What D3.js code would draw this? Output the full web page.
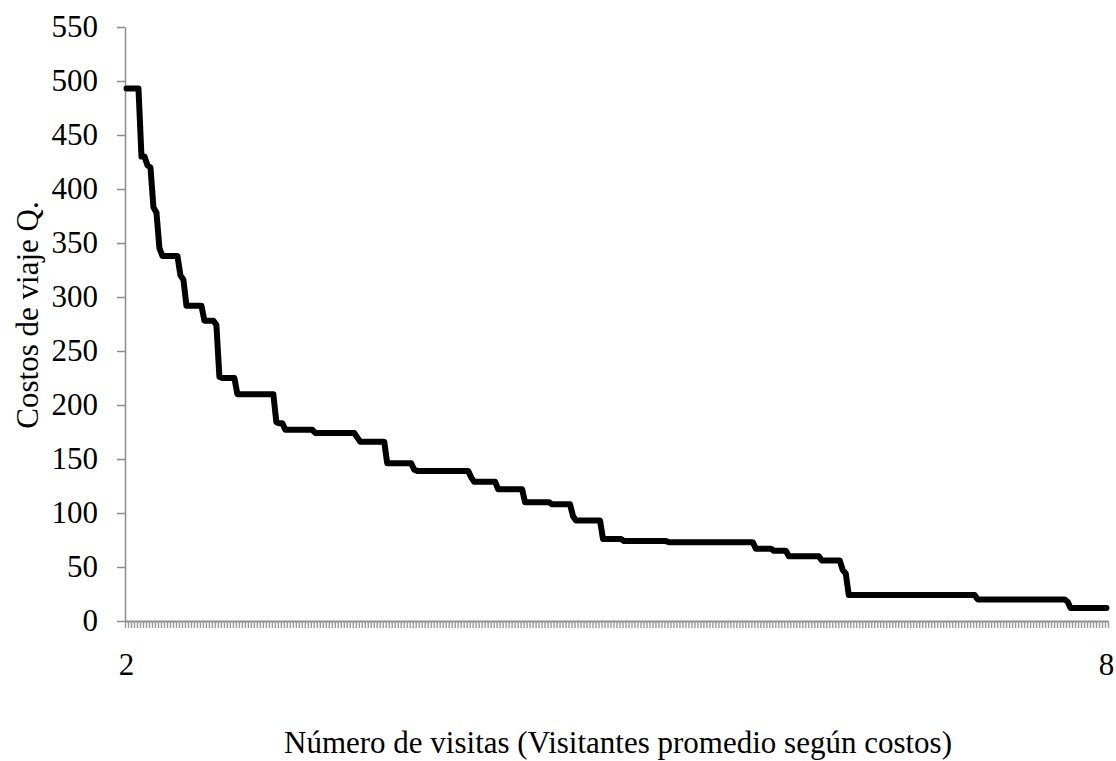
<!DOCTYPE html>
<html>
  <head>
    <meta charset="UTF-8">
    <title>Costos de viaje</title>
    <script src="https://d3js.org/d3.v7.min.js"></script>
    <style>
      body { margin: 0; background: #fff; }
      svg text { font-family: "Liberation Serif", "Times New Roman", Times, serif !important; fill: #000; }
    </style>
  </head>
  <body>
    <svg id="chart" width="1116" height="761"></svg>
    <script>
      // travel cost per visitor group (left to right)
      const costs = [
        493,493,493,493,493,
        430,430,422,420,383,378,345,
        338,338,338,338,338,338,
        320,316,
        292,292,292,292,292,292,
        278,278,278,278,274,
        226,225,225,225,225,225,
        210,210,210,210,210,210,210,210,210,210,210,210,210,
        184,183,183,
        177,177,177,177,177,177,177,177,177,177,
        174,174,174,174,174,174,174,174,174,174,174,174,174,174,
        170,
        166,166,166,166,166,166,166,166,166,
        146,146,146,146,146,146,146,146,146,
        140,
        139,139,139,139,139,139,139,139,139,139,139,139,139,139,139,139,139,139,
        133,
        129,129,129,129,129,129,129,129,
        122,122,122,122,122,122,122,122,122,
        110,110,110,110,110,110,110,110,110,
        108,108,108,108,108,108,108,
        97,
        93,93,93,93,93,93,93,93,93,
        76,76,76,76,76,76,76,
        74,74,74,74,74,74,74,74,74,74,74,74,74,74,74,
        73,73,73,73,73,73,73,73,73,73,
        73,73,73,73,73,73,73,73,73,73,
        73,73,73,73,73,73,73,73,73,
        67,67,67,67,67,67,
        65,65,65,65,65,
        60,60,60,60,60,60,60,60,60,60,60,
        56,56,56,56,56,56,56,
        47,44,
        24,24,24,24,24,24,24,24,24,24,
        24,24,24,24,24,24,24,24,24,24,
        24,24,24,24,24,24,24,24,24,24,
        24,24,24,24,24,24,24,24,24,24,
        24,24,24,
        20,20,20,20,20,20,20,20,20,20,
        20,20,20,20,20,20,20,20,20,20,
        20,20,20,20,20,20,20,20,20,20,
        18,
        12,12,12,12,12,12,12,12,12,12,12,12,12
      ];
      const firstLabel = "2";
      const lastLabel = "8";
      const yTicks = [0, 50, 100, 150, 200, 250, 300, 350, 400, 450, 500, 550];
      const xTitle = "Número de visitas (Visitantes promedio según costos)";
      const yTitle = "Costos de viaje Q.";

      const plotLeft = 125, plotRight = 1108, plotTop = 27, plotBottom = 621;
      const axisColor = "#8c8c8c";
      const fontSize = 31;
      const serif = "'Liberation Serif', 'Times New Roman', serif";
      const svg = d3.select("#chart").attr("font-family", serif);

      const idx = d3.range(costs.length);
      const x = d3.scaleBand().domain(idx).range([plotLeft, plotRight]);
      const xEdge = d3.scaleLinear().domain([0, costs.length]).range([plotLeft, plotRight]);
      const y = d3.scaleLinear().domain([0, 550]).range([plotBottom, plotTop]);

      // y axis
      const yAxis = svg.append("g")
        .attr("transform", `translate(${plotLeft},0)`)
        .call(d3.axisLeft(y).tickValues(yTicks).tickSizeInner(8).tickSizeOuter(0).tickPadding(19));
      yAxis.attr("font-family", serif).attr("font-size", fontSize);
      yAxis.select(".domain").attr("stroke", axisColor).attr("stroke-width", 1.5);
      yAxis.selectAll(".tick line").attr("stroke", axisColor).attr("stroke-width", 1.5);
      yAxis.selectAll(".tick text").attr("fill", "#000");

      // x axis: tick marks between categories, no labels
      const xAxis = svg.append("g")
        .attr("transform", `translate(0,${plotBottom})`)
        .call(d3.axisBottom(xEdge).tickValues(d3.range(costs.length + 1)).tickFormat("").tickSizeInner(7).tickSizeOuter(0));
      xAxis.select(".domain").attr("stroke", axisColor).attr("stroke-width", 2);
      xAxis.selectAll(".tick line").attr("stroke", "#999").attr("stroke-width", 1.4);

      // only first and last category labelled
      svg.append("text")
        .attr("x", x(0) + x.bandwidth() / 2)
        .attr("y", 675)
        .attr("text-anchor", "middle")
        .attr("font-size", fontSize)
        .text(firstLabel);
      svg.append("text")
        .attr("x", x(costs.length - 1) + x.bandwidth() / 2)
        .attr("y", 675)
        .attr("text-anchor", "middle")
        .attr("font-size", fontSize)
        .text(lastLabel);

      // the curve
      const line = d3.line()
        .x((d, i) => x(i) + x.bandwidth() / 2)
        .y(d => y(d));
      svg.append("path")
        .datum(costs)
        .attr("d", line)
        .attr("fill", "none")
        .attr("stroke", "#000")
        .attr("stroke-width", 6)
        .attr("stroke-linejoin", "round")
        .attr("stroke-linecap", "round");

      // titles
      svg.append("text")
        .attr("x", 618)
        .attr("y", 753)
        .attr("text-anchor", "middle")
        .attr("font-size", fontSize)
        .text(xTitle);
      svg.append("text")
        .attr("transform", `translate(38,315) rotate(-90)`)
        .attr("text-anchor", "middle")
        .attr("font-size", fontSize)
        .text(yTitle);
    </script>
  </body>
</html>
